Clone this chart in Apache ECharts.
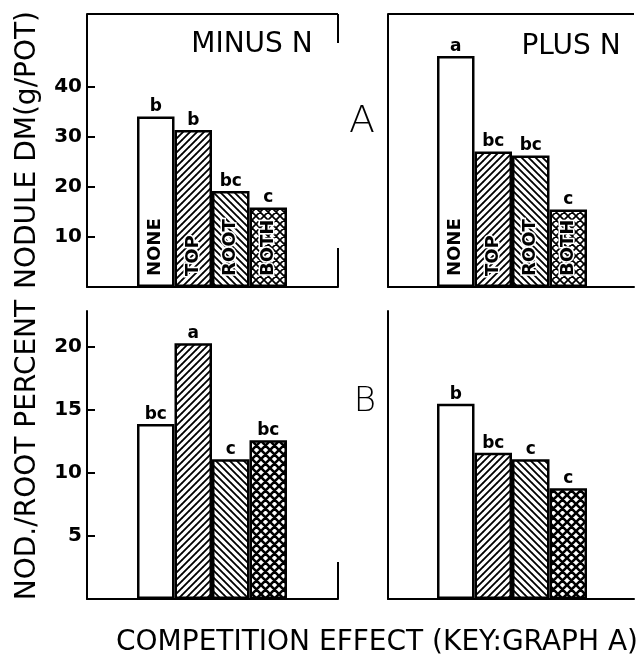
<!DOCTYPE html>
<html><head><meta charset="utf-8">
<script src="https://cdn.jsdelivr.net/npm/echarts@6/dist/echarts.min.js"></script>
<style>html,body{margin:0;padding:0;background:#fff}#c{width:636px;height:664px}</style>
</head><body><div id="c"></div>
<script>
// ---- data ----
const categories = ['NONE', 'TOP', 'ROOT', 'BOTH'];
const noduleMinusN = [34.1, 31.4, 19.2, 15.9];
const nodulePlusN = [46.2, 27.1, 26.3, 15.5];
const ratioMinusN = [13.9, 20.3, 11.1, 12.6];
const ratioPlusN = [15.5, 11.6, 11.1, 8.8];
const letterNoduleMinusN = ['b', 'b', 'bc', 'c'];
const letterNodulePlusN = ['a', 'bc', 'bc', 'c'];
const letterRatioMinusN = ['bc', 'a', 'c', 'bc'];
const letterRatioPlusN = ['b', 'bc', 'c', 'c'];
const noduleTicks = [10, 20, 30, 40];
const ratioTicks = [5, 10, 15, 20];

const FONT = 'DejaVu Sans';

// ---- patterns ----
function hatch(kind, s, lw) {
  const c = document.createElement('canvas');
  c.width = s; c.height = s;
  const g = c.getContext('2d');
  g.fillStyle = '#fff'; g.fillRect(0, 0, s, s);
  g.strokeStyle = '#000'; g.lineWidth = lw; g.lineCap = 'square';
  g.beginPath();
  if (kind === '/' || kind === 'x') {
    for (let k = -1; k <= 1; k++) { g.moveTo(k * s, s); g.lineTo(k * s + s, 0); }
  }
  if (kind === '\\' || kind === 'x') {
    for (let k = -1; k <= 1; k++) { g.moveTo(k * s, 0); g.lineTo(k * s + s, s); }
  }
  g.stroke();
  return { image: c, repeat: 'repeat' };
}
const fillsTop = ['#fff', hatch('/', 7, 1.8), hatch('\\', 7, 1.8), hatch('x', 8, 1.7)];
const fillsBottom = ['#fff', hatch('/', 7, 1.8), hatch('\\', 7, 1.8), hatch('x', 9, 2.6)];

// ---- layout ----
const TOP = { top: 14, height: 273, max: 54.6, ticks: noduleTicks };
const BOT = { top: 311, height: 288, max: 22.86, ticks: ratioTicks };
const grids = [], xAxes = [], yAxes = [], series = [];

function panel(row, side, values, letters, fills, withNames) {
  const frameLeft = side === 'L' ? 87 : 388;
  const frameWidth = side === 'L' ? 251 : 246;
  const barLeft = side === 'L' ? 137 : 437;
  const gi = grids.length;
  grids.push({ left: frameLeft, top: row.top, width: frameWidth, height: row.height });
  grids.push({ left: barLeft, top: row.top, width: 150, height: row.height });
  const line = { show: true, lineStyle: { color: '#000', width: 2 } };
  xAxes.push({ gridIndex: gi, type: 'value', min: 0, max: 1, axisLine: line,
    axisTick: { show: false }, axisLabel: { show: false }, splitLine: { show: false } });
  xAxes.push({ gridIndex: gi + 1, type: 'category', data: categories, show: false });
  if (side === 'L') {
    yAxes.push({ gridIndex: gi, type: 'value', min: 0, max: row.max, position: 'left',
      axisLine: line,
      axisTick: { show: true, inside: true, length: 8, customValues: row.ticks, lineStyle: { color: '#000', width: 2 } },
      axisLabel: { customValues: row.ticks, color: '#000', fontFamily: FONT, fontWeight: 'bold', fontSize: 20, margin: 5 },
      splitLine: { show: false } });
  } else {
    yAxes.push({ gridIndex: gi, type: 'value', min: 0, max: row.max, position: 'right',
      axisLine: line, axisTick: { show: false }, axisLabel: { show: false }, splitLine: { show: false } });
  }
  yAxes.push({ gridIndex: gi + 1, type: 'value', min: 0, max: row.max, show: false });
  const ax = xAxes.length - 1, ay = yAxes.length - 1;
  series.push({
    type: 'bar', xAxisIndex: ax, yAxisIndex: ay, barCategoryGap: '0%', silent: true,
    data: values.map((v, i) => ({ value: v, itemStyle: { color: fills[i] } })),
    itemStyle: { borderColor: '#000', borderWidth: 2.5 },
    label: { show: true, position: 'top', distance: 1, color: '#000', fontFamily: FONT,
      fontWeight: 'bold', fontSize: 17, formatter: p => letters[p.dataIndex] }
  });
  if (withNames) {
    series.push({
      type: 'bar', xAxisIndex: ax, yAxisIndex: ay, barCategoryGap: '0%', barGap: '-100%', silent: true, z: 5,
      data: values.slice(),
      itemStyle: { color: 'rgba(0,0,0,0)', borderWidth: 0 },
      label: { show: true, position: 'insideBottom', rotate: 90, align: 'left', verticalAlign: 'middle',
        distance: 11, color: '#000', fontFamily: FONT, fontWeight: 'bold', fontSize: 18,
        textBorderColor: '#fff', textBorderWidth: 3,
        formatter: p => categories[p.dataIndex] }
    });
  }
}
panel(TOP, 'L', noduleMinusN, letterNoduleMinusN, fillsTop, true);
panel(TOP, 'R', nodulePlusN, letterNodulePlusN, fillsTop, true);
panel(BOT, 'L', ratioMinusN, letterRatioMinusN, fillsBottom, false);
panel(BOT, 'R', ratioPlusN, letterRatioPlusN, fillsBottom, false);

function seg(x1, y1, x2, y2) {
  return { type: 'line', shape: { x1, y1, x2, y2 }, style: { stroke: '#000', lineWidth: 2 }, silent: true };
}
function txt(t, x, y, size, weight, rot) {
  return { type: 'text', x, y, rotation: rot || 0, silent: true,
    style: { text: t, fill: '#000', font: (weight || 'normal') + ' ' + size + 'px "' + FONT + '"',
      textAlign: 'center', textVerticalAlign: 'middle' } };
}

const chart = echarts.init(document.getElementById('c'), null, { renderer: 'canvas' });
chart.setOption({
  animation: false,
  backgroundColor: '#fff',
  grid: grids, xAxis: xAxes, yAxis: yAxes, series,
  graphic: [
    seg(87, 14, 338, 14), seg(338, 14, 338, 43), seg(338, 248, 338, 287),
    seg(388, 14, 634, 14), seg(388, 14, 388, 43), seg(388, 248, 388, 287),
    seg(338, 562, 338, 599), seg(388, 562, 388, 599),
    txt('NODULE DM(g/POT)', 28, 150, 28, 'normal', Math.PI / 2),
    txt('NOD./ROOT PERCENT', 28, 450, 28, 'normal', Math.PI / 2),
    txt('MINUS N', 252, 45, 28), txt('PLUS N', 571, 47, 28),
    txt('A', 362, 122, 38, 300), txt('B', 365, 402, 34, 300),
    txt('COMPETITION EFFECT (KEY:GRAPH A)', 377, 643, 28)
  ]
});
</script></body></html>
